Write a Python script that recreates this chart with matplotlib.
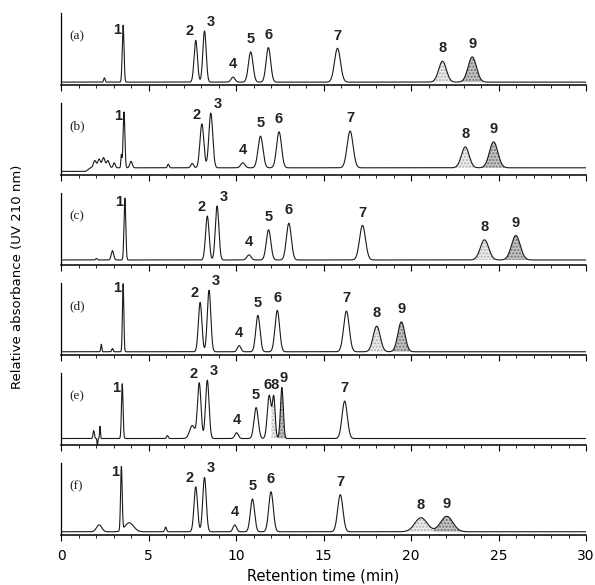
import numpy as np
import matplotlib.pyplot as plt
from matplotlib.ticker import MultipleLocator

# peak tables, one per chromatogram
# tops are given as a fraction of the panel height, sigmas in minutes
panel_names = ['(a)', '(b)', '(c)', '(d)', '(e)', '(f)']
baselines = [0.04, 0.10, 0.07, 0.045, 0.09, 0.045]

times_a = [2.48, 3.55, 7.7, 8.2, 9.83, 10.84, 11.85, 15.8, 21.8, 23.5]
tops_a = [0.10, 0.83, 0.62, 0.75, 0.11, 0.46, 0.52, 0.51, 0.33, 0.39]
sig_a = [0.04, 0.05, 0.095, 0.095, 0.11, 0.13, 0.13, 0.17, 0.22, 0.24]
lab_a = ['', '1', '2', '3', '4', '5', '6', '7', '8', '9']

times_b = [1.93, 2.18, 2.43, 2.68, 3.04, 3.45, 3.6, 4.0, 6.13, 7.5, 8.05, 8.56,
           10.39, 11.4, 12.46, 16.52, 23.1, 24.72]
tops_b = [0.20, 0.22, 0.24, 0.20, 0.17, 0.28, 0.875, 0.19, 0.15, 0.16, 0.71, 0.86,
          0.17, 0.54, 0.60, 0.61, 0.39, 0.46]
sig_b = [0.08, 0.08, 0.08, 0.08, 0.06, 0.03, 0.05, 0.07, 0.05, 0.08, 0.11, 0.11,
         0.12, 0.14, 0.14, 0.17, 0.22, 0.24]
lab_b = ['', '', '', '', '', '', '1', '', '', '', '2', '3', '4', '5', '6', '7', '8', '9']

times_c = [2.03, 2.94, 3.65, 8.36, 8.92, 10.74, 11.86, 13.02, 17.23, 24.2, 25.99]
tops_c = [0.09, 0.20, 0.93, 0.68, 0.82, 0.14, 0.49, 0.58, 0.55, 0.35, 0.41]
sig_c = [0.05, 0.07, 0.05, 0.1, 0.1, 0.12, 0.13, 0.14, 0.17, 0.24, 0.25]
lab_c = ['', '', '1', '2', '3', '4', '5', '6', '7', '8', '9']

times_d = [2.3, 2.94, 3.55, 7.95, 8.46, 10.18, 11.25, 12.36, 16.31, 18.04, 19.45]
tops_d = [0.15, 0.09, 0.99, 0.73, 0.90, 0.13, 0.55, 0.62, 0.61, 0.40, 0.46]
sig_d = [0.03, 0.04, 0.04, 0.1, 0.1, 0.1, 0.12, 0.13, 0.16, 0.2, 0.2]
lab_d = ['', '', '1', '2', '3', '4', '5', '6', '7', '8', '9']

times_e = [1.87, 2.08, 2.23, 3.5, 6.08, 7.5, 7.9, 8.36, 10.03, 11.15, 11.9, 12.16,
           12.62, 16.21]
tops_e = [0.20, -0.03, 0.26, 0.85, 0.13, 0.27, 0.86, 0.90, 0.17, 0.52, 0.69, 0.65,
          0.80, 0.61]
sig_e = [0.04, 0.02, 0.025, 0.045, 0.05, 0.15, 0.1, 0.1, 0.1, 0.12, 0.11, 0.08,
         0.08, 0.15]
lab_e = ['', '', '', '1', '', '', '2', '3', '4', '5', '68', '8', '9', '7']

times_f = [2.18, 3.45, 3.9, 5.98, 7.7, 8.2, 9.93, 10.94, 12.0, 15.96, 20.57, 22.04]
tops_f = [0.14, 0.93, 0.17, 0.11, 0.67, 0.80, 0.14, 0.50, 0.60, 0.56, 0.24, 0.26]
sig_f = [0.15, 0.045, 0.25, 0.05, 0.1, 0.1, 0.1, 0.12, 0.13, 0.15, 0.35, 0.35]
lab_f = ['', '1', '', '', '2', '3', '4', '5', '6', '7', '8', '9']

panels = [
    (times_a, tops_a, sig_a, lab_a),
    (times_b, tops_b, sig_b, lab_b),
    (times_c, tops_c, sig_c, lab_c),
    (times_d, tops_d, sig_d, lab_d),
    (times_e, tops_e, sig_e, lab_e),
    (times_f, tops_f, sig_f, lab_f),
]

t = np.linspace(0, 30, 6001)
fig = plt.figure(figsize=(5.95, 5.85), dpi=100)

W, H = 595.0, 585.0
line_col = '#1a1a1a'

for i, (tm, tp, sg, lb) in enumerate(panels):
    axis_y = 85 + 90 * i  # pixel row of the panel's x axis
    ax = fig.add_axes([61 / W, 1 - axis_y / H, 525 / W, 72 / H])
    base = np.full_like(t, baselines[i])
    if i == 1:
        # trace (b) starts lower before the solvent front
        base = base - 0.05 * np.clip((1.7 - t) / 0.3, 0, 1)
    y = base.copy()
    for mu, top, s in zip(tm, tp, sg):
        y += (top - baselines[i]) * np.exp(-0.5 * ((t - mu) / s) ** 2)

    # shaded peaks 8 (light) and 9 (dark)
    for k, (mu, s, l) in enumerate(zip(tm, sg, lb)):
        if l not in ('8', '9'):
            continue
        lo, hi = mu - 2.6 * s, mu + 2.6 * s
        if k > 0:
            lo = max(lo, (tm[k - 1] + mu) / 2)
        if k < len(tm) - 1:
            hi = min(hi, (tm[k + 1] + mu) / 2)
        m = (t >= lo) & (t <= hi)
        if l == '8':
            ax.fill_between(t, base, y, where=m, facecolor='#ececec',
                            edgecolor='#b0b0b0', hatch='.....', linewidth=0)
        else:
            ax.fill_between(t, base, y, where=m, facecolor='#c4c4c4',
                            edgecolor='#707070', hatch='.....', linewidth=0)

    ax.plot(t, y, color=line_col, lw=0.8)

    # peak numbers
    for mu, top, l in zip(tm, tp, lb):
        if not l or (l == '8' and '68' in lb):
            continue
        kw = dict(fontsize=10.5, fontweight='bold', color='#222',
                  family='Liberation Sans')
        if l == '1':
            ax.text(mu - 0.12, top - 0.06, l, ha='right', va='center', **kw)
        elif l == '2':
            ax.text(mu - 0.1, top + 0.03, l, ha='right', va='bottom', **kw)
        elif l == '3':
            ax.text(mu + 0.15, top + 0.03, l, ha='left', va='bottom', **kw)
        elif l == '68':
            ax.text(mu + 0.15, top + 0.05, l, ha='center', va='bottom', **kw)
        elif l == '9' and '68' in lb:
            ax.text(mu + 0.1, top + 0.04, l, ha='center', va='bottom', **kw)
        else:
            ax.text(mu, top + 0.08, l, ha='center', va='bottom', **kw)

    ax.text(0.45, 0.68, panel_names[i], fontsize=9.5, family='Liberation Serif',
            ha='left', va='center', color='#222')

    ax.set_xlim(0, 30)
    ax.set_ylim(0, 1)
    ax.spines['top'].set_visible(False)
    ax.spines['right'].set_visible(False)
    ax.spines['left'].set_linewidth(0.9)
    ax.spines['bottom'].set_linewidth(1.1)
    ax.set_yticks([])
    ax.xaxis.set_major_locator(MultipleLocator(5))
    ax.xaxis.set_minor_locator(MultipleLocator(1))
    ax.tick_params(axis='x', which='major', direction='out', length=4, width=0.8)
    ax.tick_params(axis='x', which='minor', direction='out', length=2, width=0.6)
    if i < 5:
        ax.tick_params(axis='x', labelbottom=False)
    else:
        ax.tick_params(axis='x', labelsize=10, pad=6)
        ax.set_xlabel('Retention time (min)', fontsize=10.5, labelpad=4)

fig.text(18 / W, 1 - 277 / H, 'Relative absorbance (UV 210 nm)', rotation=90,
         ha='center', va='center', fontsize=9.5)

fig.savefig('out.png', dpi=100)
